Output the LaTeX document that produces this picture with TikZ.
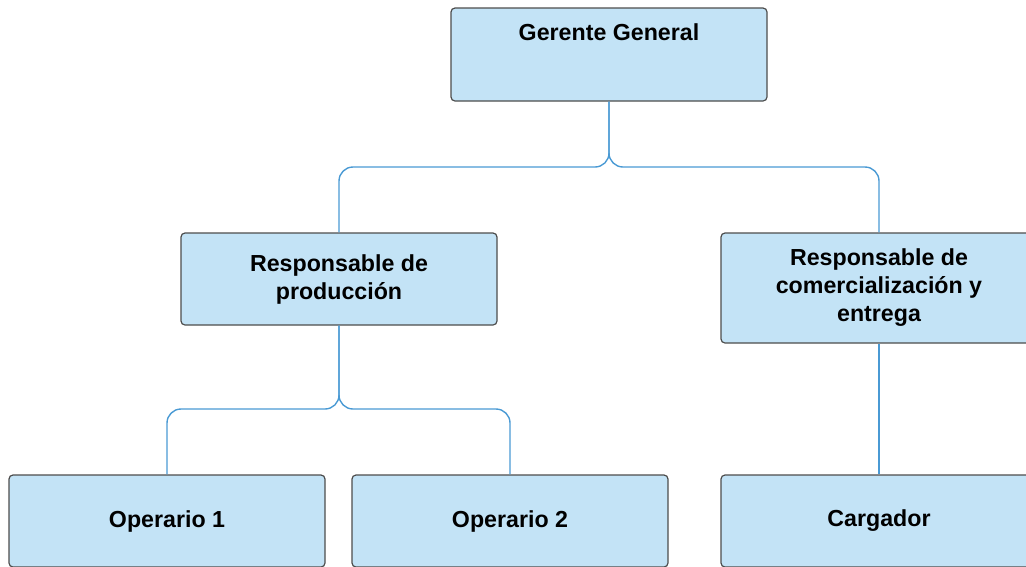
\documentclass[tikz,border=0pt]{standalone}
\usepackage{fontspec}
\setmainfont{Liberation Sans}
\definecolor{boxfill}{HTML}{C3E3F6}
\definecolor{boxline}{HTML}{4D4D4D}
\definecolor{linkblue}{HTML}{4A9AD4}
\begin{document}
\begin{tikzpicture}[x=1pt,y=-1pt,
  orgbox/.style={draw=boxline, fill=boxfill, line width=1.2pt, rounded corners=4pt,
    minimum width=316pt, minimum height=92pt, align=center, inner sep=0pt,
    font=\fontsize{23.2}{28}\selectfont\bfseries},
  link/.style={draw=linkblue, line width=1.4pt, rounded corners=14pt}]
  \useasboundingbox (0,0) rectangle (1026,566);
  \clip (0,0) rectangle (1026,566);

  % boxes
  \node[orgbox, minimum height=93pt,
    label={[anchor=north, inner sep=0pt, yshift=-16pt, font=\fontsize{23.2}{28}\selectfont\bfseries]north:Gerente General}]
    (gg) at (609,54.5) {};
  \node[orgbox] (rp) at (339,279) {Responsable de\\producción};
  \node[orgbox, minimum height=110pt] (rc) at (879,288) {Responsable de\\comercialización y\\entrega};
  \node[orgbox] (op1) at (167,521) {Operario 1};
  \node[orgbox] (op2) at (510,521) {Operario 2};
  \node[orgbox] (cg) at (879,521) {Cargador};

  % connectors
  \coordinate (jt) at (609,167);
  \coordinate (jb) at (339,409);
  \draw[link] (gg.south) -- (jt) -| (rp.north);
  \draw[link] (gg.south) -- (jt) -| (rc.north);
  \draw[link] (rp.south) -- (jb) -| (op1.north);
  \draw[link] (rp.south) -- (jb) -| (op2.north);
  \draw[link] (rc.south) -- (cg.north);
\end{tikzpicture}
\end{document}
